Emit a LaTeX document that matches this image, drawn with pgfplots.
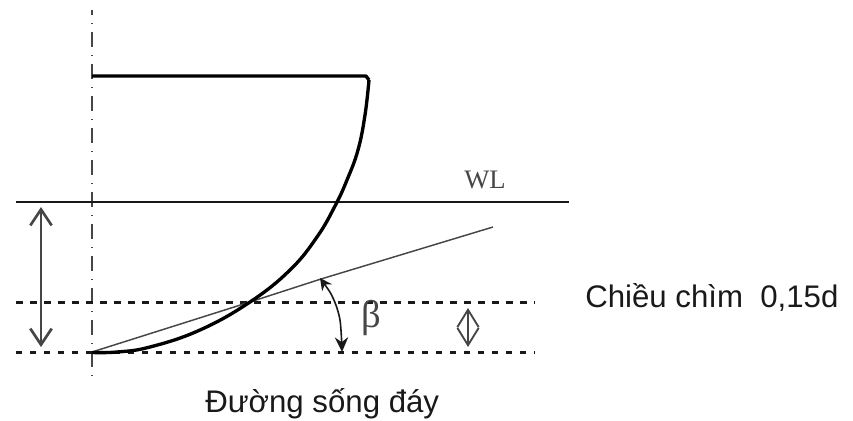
\documentclass[border=0pt]{standalone}
\usepackage{fontspec}
\setmainfont{Liberation Sans}
\newfontfamily\serifwl{Liberation Serif}
\usepackage{pgfplots}
\pgfplotsset{compat=1.18}
\usetikzlibrary{arrows.meta}
\definecolor{ink}{RGB}{25,25,25}
\definecolor{soft}{RGB}{70,70,70}
\begin{document}
\begin{tikzpicture}
  % axis runs in reference pixels, 1px = 0.75pt
  \begin{axis}[
    scale only axis,
    width=639.75pt,
    height=315.75pt,
    xmin=0, xmax=853,
    ymin=0, ymax=421,
    y dir=reverse,
    hide axis,
    clip=false,
  ]
    % keep the whole frame in the page
    \path[use as bounding box] (axis cs:0,0) rectangle (axis cs:853,421);
    % centre line
    \addplot[soft, line width=1.7pt, no marks, dash pattern=on 11pt off 6pt on 1pt off 6pt, dash phase=7.5pt]
      coordinates {(92,10) (92,376)};
    % waterline
    \addplot[ink, line width=1.1pt, no marks] coordinates {(16,202) (569,202)};
    % dashed levels
    \addplot[ink, line width=1.6pt, no marks, dash pattern=on 5pt off 5.5pt] coordinates {(16,302.5) (535,302.5)};
    \addplot[ink, line width=1.6pt, no marks, dash pattern=on 4.5pt off 6pt] coordinates {(16,352.5) (535,352.5)};
    % deadrise line
    \addplot[soft, line width=1.1pt, no marks] coordinates {(92,352) (250,302) (321,279) (493,227)};
    % hull section
    \addplot[black, line width=2.5pt, no marks, smooth, tension=0.7, line join=round]
      coordinates {(92,352.5) (117,352) (150,347) (200,330) (250,302) (290,270)
                   (317,237) (335,206) (347,180) (358,150) (365,115) (369,80)};
    \addplot[black, line width=2.5pt, no marks, line join=round]
      coordinates {(92,76) (366,76) (369,80)};
    % draft arrow
    \addplot[soft, line width=2pt, no marks, {Straight Barb[length=12pt,width=16pt]}-{Straight Barb[length=12pt,width=16pt]}]
      coordinates {(41,207) (41,347)};
    % small arrow
    \addplot[soft, line width=1.4pt, no marks, {Straight Barb[length=13pt,width=16pt]}-{Straight Barb[length=13pt,width=16pt]}]
      coordinates {(468,308) (468,347)};
    % angle arc
    \addplot[ink, line width=1.2pt, no marks, smooth, {Stealth[length=9pt,width=9pt]}-{Stealth[length=11pt,width=10pt]}]
      coordinates {(320,278) (333,298) (340,320) (342,352)};
    \node[font=\serifwl\fontsize{20}{22}\selectfont, text=soft, anchor=base] at (axis cs:485,188) {WL};
    \node[font=\serifwl\fontsize{29}{32}\selectfont, text=soft, anchor=base] at (axis cs:371,327) {β};
    \node[font=\fontsize{23.4}{28}\selectfont, text=ink, anchor=base west, inner sep=0pt] at (axis cs:585,307) {Chiều chìm\ \ 0,15d};
    \node[font=\fontsize{23.4}{28}\selectfont, text=ink, anchor=base west, inner sep=0pt] at (axis cs:205,412) {Đường sống đáy};
  \end{axis}
\end{tikzpicture}
\end{document}
